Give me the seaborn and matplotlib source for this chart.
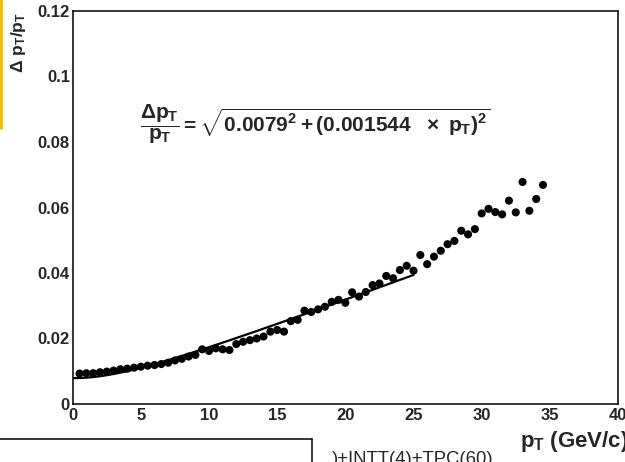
import numpy as np
import pandas as pd
import matplotlib
matplotlib.use("Agg")
import matplotlib.pyplot as plt
from matplotlib.lines import Line2D
from matplotlib.ticker import MultipleLocator
import seaborn as sns

# Transverse-momentum bins (GeV/c) and measured relative resolution
pt = [0.5, 1.0, 1.5, 2.0, 2.5, 3.0, 3.5, 4.0, 4.5, 5.0, 5.5, 6.0, 6.5, 7.0,
      7.5, 8.0, 8.5, 9.0, 9.5, 10.0, 10.5, 11.0, 11.5, 12.0, 12.5, 13.0,
      13.5, 14.0, 14.5, 15.0, 15.5, 16.0, 16.5, 17.0, 17.5, 18.0, 18.5,
      19.0, 19.5, 20.0, 20.5, 21.0, 21.5, 22.0, 22.5, 23.0, 23.5, 24.0,
      24.5, 25.0, 25.5, 26.0, 26.5, 27.0, 27.5, 28.0, 28.5, 29.0, 29.5,
      30.0, 30.5, 31.0, 31.5, 32.0, 32.5, 33.0, 33.5, 34.0, 34.5]
resolution = [0.0093, 0.0094, 0.0094, 0.0097, 0.0099, 0.0102, 0.0106, 0.0108,
              0.0111, 0.0114, 0.0117, 0.0119, 0.0122, 0.0126, 0.0133, 0.0138,
              0.0145, 0.0150, 0.0167, 0.0162, 0.0170, 0.0167, 0.0165, 0.0183,
              0.0190, 0.0195, 0.0200, 0.0206, 0.0221, 0.0226, 0.0221, 0.0253,
              0.0257, 0.0285, 0.0281, 0.0289, 0.0297, 0.0312, 0.0318, 0.0309,
              0.0341, 0.0328, 0.0342, 0.0363, 0.0368, 0.0391, 0.0384, 0.0409,
              0.0422, 0.0407, 0.0455, 0.0427, 0.0450, 0.0468, 0.0488, 0.0498,
              0.0529, 0.0518, 0.0534, 0.0582, 0.0596, 0.0586, 0.0579, 0.0621,
              0.0585, 0.0678, 0.0590, 0.0626, 0.0669]

# Fit parameters: constant term and term linear in pT
fit_const = 0.0079
fit_slope = 0.001544
fit_range = [0.0, 25.0]

x_ticks = [0, 5, 10, 15, 20, 25, 30, 35, 40]
y_ticks = [0, 0.02, 0.04, 0.06, 0.08, 0.1, 0.12]
y_tick_labels = ["0", "0.02", "0.04", "0.06", "0.08", "0.1", "0.12"]

sns.set_style("white")
plt.rcParams["font.family"] = ["Liberation Sans", "DejaVu Sans"]
plt.rcParams["font.weight"] = "bold"
plt.rcParams["mathtext.fontset"] = "custom"
plt.rcParams["mathtext.rm"] = "Liberation Sans:bold"
plt.rcParams["mathtext.it"] = "Liberation Sans:bold"
plt.rcParams["mathtext.bf"] = "Liberation Sans:bold"
plt.rcParams["mathtext.sf"] = "Liberation Sans:bold"

W, H = 625, 462
fig = plt.figure(figsize=(W / 100, H / 100), dpi=100)
ax = fig.add_axes([72.7 / W, 1 - 404 / H, (618 - 72.7) / W, (404 - 11) / H])

df = pd.DataFrame({"pt": pt, "res": resolution})
fit_x = np.linspace(fit_range[0], fit_range[1], 300)
fit_df = pd.DataFrame({"pt": fit_x,
                       "res": np.sqrt(fit_const ** 2 + (fit_slope * fit_x) ** 2)})

sns.lineplot(data=fit_df, x="pt", y="res", ax=ax, color="black", lw=1.6,
             zorder=2)
sns.scatterplot(data=df, x="pt", y="res", ax=ax, color="black", s=34,
                edgecolor="none", zorder=3)

ax.set_xlim(0, 40)
ax.set_ylim(0, 0.12)
ax.set_xticks(x_ticks)
ax.set_xticklabels([str(t) for t in x_ticks])
ax.set_yticks(y_ticks)
ax.set_yticklabels(y_tick_labels)
ax.xaxis.set_minor_locator(MultipleLocator(1))
ax.yaxis.set_minor_locator(MultipleLocator(0.005))
ax.tick_params(axis="x", which="major", direction="in", length=8.6, width=1,
               labelsize=12, pad=3, top=False)
ax.tick_params(axis="x", which="minor", direction="in", length=4.3, width=1,
               top=False)
ax.tick_params(axis="y", which="major", direction="in", length=12, width=1,
               labelsize=12, pad=2, right=False)
ax.tick_params(axis="y", which="minor", direction="in", length=6, width=1,
               right=False)
for lbl in ax.get_xticklabels() + ax.get_yticklabels():
    lbl.set_fontweight("bold")
for sp in ax.spines.values():
    sp.set_linewidth(1.1)
    sp.set_color("black")
ax.set_xlabel("")
ax.set_ylabel("")

# Axis titles placed at the ends of the axes
fig.text(18 / W, 1 - 12 / H, r"$\Delta\ p_{T}/p_{T}$", rotation=90,
         ha="center", va="top", fontsize=12.5)
fig.text(520 / W, 1 - 441 / H, r"$p_{T}$ (GeV/c)", ha="left", va="center",
         fontsize=16, fontweight="bold")

# Fit formula
ax.text(140 / W, 1 - 124 / H, r"$\dfrac{\Delta p_{T}}{p_{T}} = "
        r"\sqrt{0.0079^{2} + (0.001544\ \ \times\ p_{T})^{2}}$",
        transform=fig.transFigure, ha="left", va="center", fontsize=15)

# Legend box fragment below the frame
fig.add_artist(Line2D([0, 312 / W], [1 - 439 / H, 1 - 439 / H],
                      color="black", lw=1.1, transform=fig.transFigure))
fig.add_artist(Line2D([312 / W, 312 / W], [1 - 439 / H, 0],
                      color="black", lw=1.1, transform=fig.transFigure))
fig.text(332 / W, 1 - 451 / H, ")+INTT(4)+TPC(60)", ha="left", va="top",
         fontsize=13.3, fontweight="normal")

# Highlight bar on the left edge
fig.add_artist(Line2D([1.5 / W, 1.5 / W], [1, 1 - 128 / H],
                      color="#F5BE00", lw=2.2, transform=fig.transFigure))

fig.savefig("out.png", dpi=100)
